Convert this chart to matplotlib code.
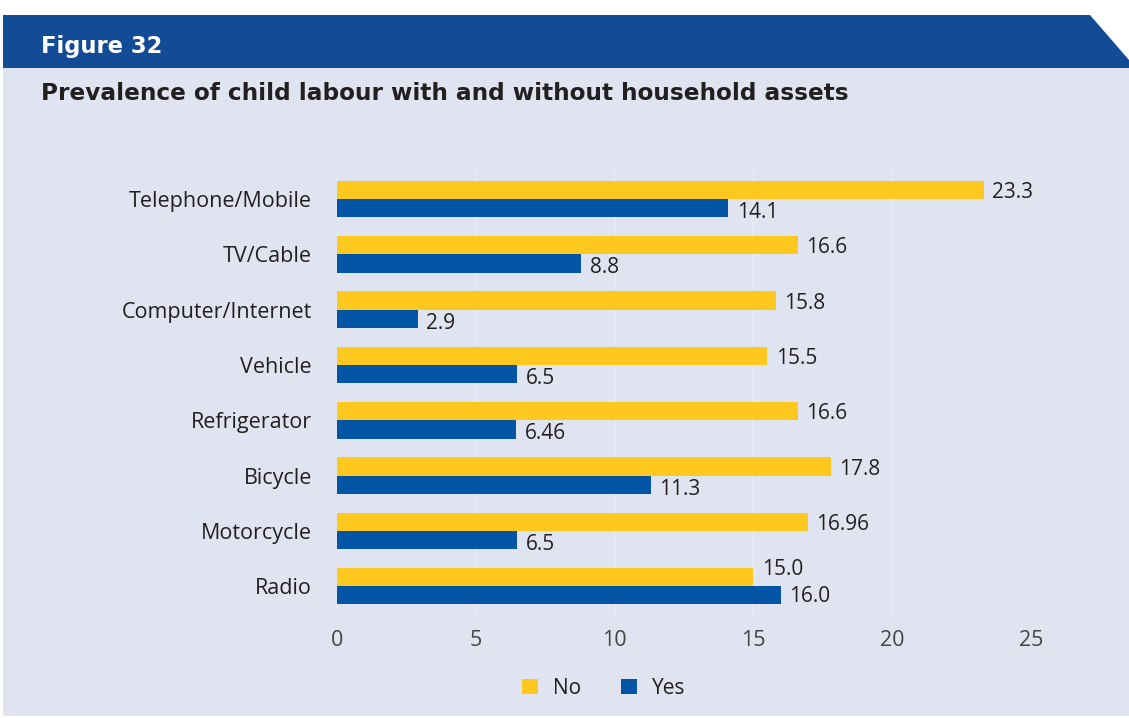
import matplotlib.pyplot as plt
from matplotlib.patches import Polygon, Rectangle

# data
assets = ["Telephone/Mobile", "TV/Cable", "Computer/Internet", "Vehicle",
          "Refrigerator", "Bicycle", "Motorcycle", "Radio"]
no_vals = [23.3, 16.6, 15.8, 15.5, 16.6, 17.8, 16.96, 15.0]
yes_vals = [14.1, 8.8, 2.9, 6.5, 6.46, 11.3, 6.5, 16.0]
no_labels = ["23.3", "16.6", "15.8", "15.5", "16.6", "17.8", "16.96", "15.0"]
yes_labels = ["14.1", "8.8", "2.9", "6.5", "6.46", "11.3", "6.5", "16.0"]
xticks = [0, 5, 10, 15, 20, 25]

YELLOW = "#FEC81E"
BLUE = "#0255A5"
BG = "#E0E4F0"
HEAD = "#124C97"

W, H = 1129, 718
fig = plt.figure(figsize=(W / 100, H / 100), dpi=100)
fig.patch.set_facecolor("white")

# background panel and header band (pixel coords -> figure fraction)
def fx(px):
    return px / W

def fy(py):
    return 1 - py / H

fig.patches.append(Rectangle((fx(3), fy(716)), fx(1129) - fx(3), fy(68) - fy(716),
                             transform=fig.transFigure, facecolor=BG, edgecolor="none", zorder=-2))
fig.patches.append(Polygon([(fx(3), fy(15)), (fx(1090), fy(15)), (fx(1129), fy(60)),
                            (fx(1129), fy(68)), (fx(3), fy(68))],
                           closed=True, transform=fig.transFigure,
                           facecolor=HEAD, edgecolor="none", zorder=-2))

fig.text(fx(41), fy(46), "Figure 32", color="white", fontsize=16.3, fontweight="bold",
         family="DejaVu Sans", va="center", ha="left")
fig.text(fx(41), fy(93), "Prevalence of child labour with and without household assets",
         color="#231F20", fontsize=16.7, fontweight="bold", family="DejaVu Sans",
         va="center", ha="left")

ax = fig.add_axes([fx(337), fy(615), fx(1031) - fx(337), (615 - 170) / H])
ax.set_facecolor("none")
ax.set_zorder(1)

pos = list(range(len(assets)))
bh = 0.33
ax.barh([p - bh / 2 for p in pos], no_vals, height=bh, color=YELLOW, label="No", zorder=2)
ax.barh([p + bh / 2 for p in pos], yes_vals, height=bh, color=BLUE, label="Yes", zorder=2)

# label nudges (data units, y) so labels sit like the original
no_dy = [0.05] * len(assets)
yes_dy = [0.08] * len(assets)
no_dy[-1] = -0.13
yes_dy[-1] = 0.02
for i, p in enumerate(pos):
    ax.text(no_vals[i] + 0.3, p - bh / 2 + no_dy[i], no_labels[i], va="center", ha="left",
            fontsize=15, color="#231F20", family="Open Sans")
    ax.text(yes_vals[i] + 0.3, p + bh / 2 + yes_dy[i], yes_labels[i], va="center", ha="left",
            fontsize=15, color="#231F20", family="Open Sans")

ax.set_xlim(0, 25)
ax.set_ylim(7.52, -0.524)
ax.set_xticks(xticks)
ax.set_xticklabels([str(t) for t in xticks], fontsize=15.5, color="#444444", family="Open Sans")
ax.set_yticks(pos)
ax.set_yticklabels(assets, fontsize=15.5, color="#231F20", family="Open Sans")
ax.tick_params(axis="x", length=0, pad=11)
ax.tick_params(axis="y", length=0, pad=18)
for s in ax.spines.values():
    s.set_visible(False)
ax.grid(axis="x", color="#E8EBF5", linewidth=1.2, zorder=0)
ax.set_axisbelow(True)

leg = fig.legend(loc="center", bbox_to_anchor=(fx(604), fy(688)), ncol=2, frameon=False,
                 prop={"family": "Open Sans", "size": 15}, handlelength=0.75, handleheight=0.75,
                 columnspacing=1.9, handletextpad=0.75)
for t in leg.get_texts():
    t.set_color("#231F20")

fig.savefig("out.png", dpi=100, facecolor=fig.get_facecolor())
